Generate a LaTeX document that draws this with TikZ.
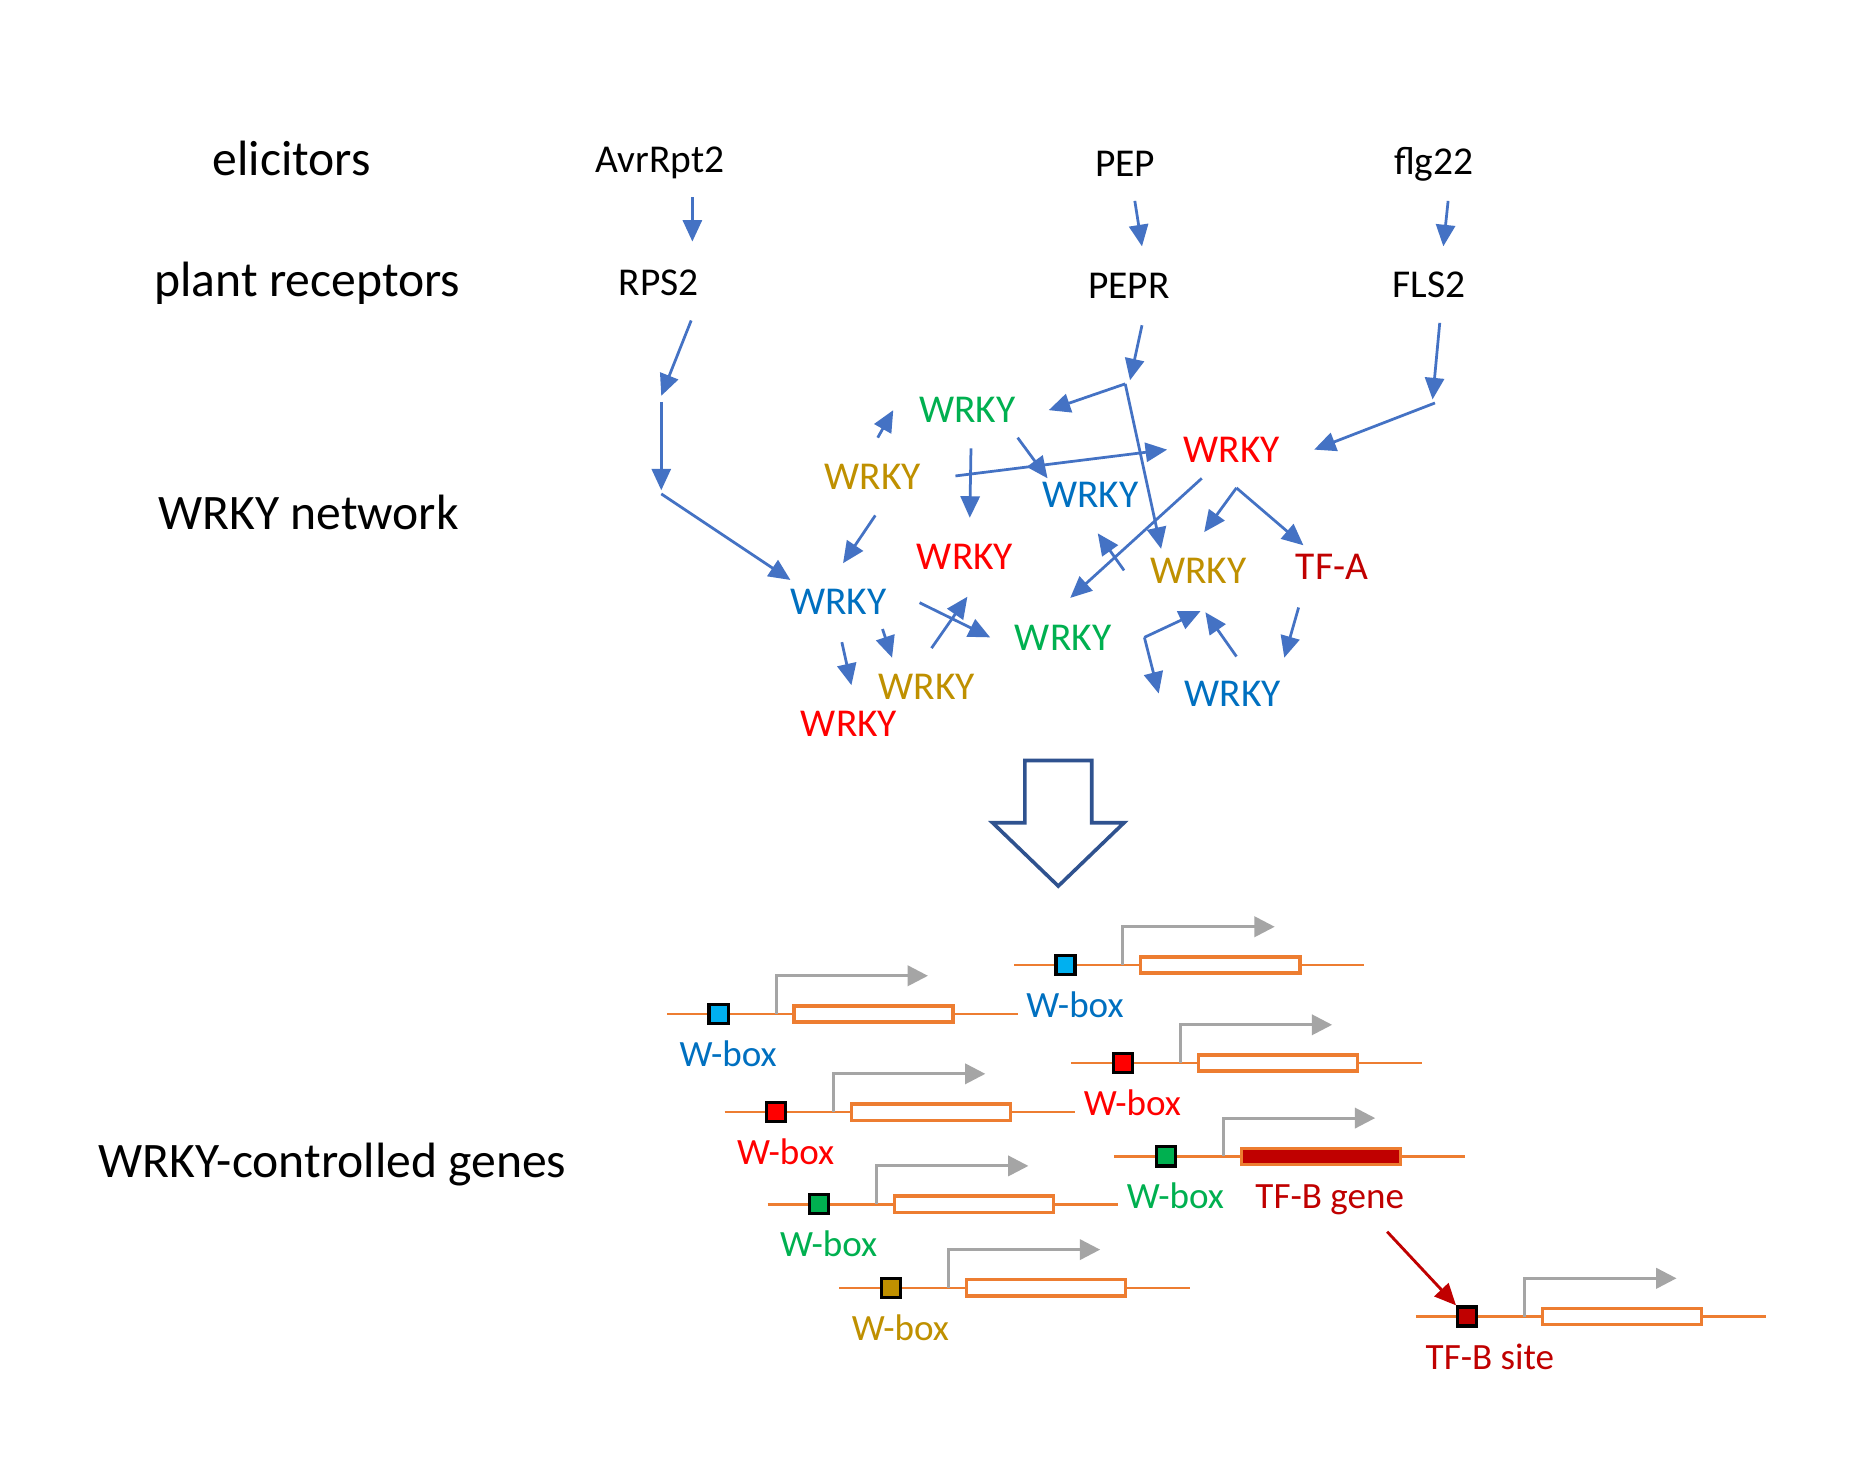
\documentclass[tikz,border=0pt]{standalone}
\usepackage{fontspec}
\setmainfont{Carlito}
\usetikzlibrary{arrows.meta}
\definecolor{arrowblue}{HTML}{4472C4}
\definecolor{bigblue}{HTML}{2F528F}
\definecolor{wgreen}{HTML}{00B050}
\definecolor{wred}{HTML}{FF0000}
\definecolor{wgold}{HTML}{BF9000}
\definecolor{wblue}{HTML}{0070C0}
\definecolor{dred}{HTML}{C00000}
\definecolor{gorange}{HTML}{ED7D31}
\definecolor{pgray}{HTML}{A5A5A5}
\definecolor{wcyan}{HTML}{00B0F0}
\newcommand\genepart[5]{%
  \draw[geneline] (#1,#2) coordinate (#5L) -- (#1+293,#2) coordinate (#5R);
  \draw[promo] (#1+91,#2) coordinate (#5p) -- (#1+91,#2-32) -- (#1+218,#2-32) coordinate (#5pe);
  \node[genebox, fill=#4] (#5box) at (#1+172.5,#2) {};
  \node[wsq, fill=#3] (#5sq) at (#1+43,#2) {};
}
\begin{document}
\begin{tikzpicture}[x=1pt,y=-1pt,
  big/.style={font=\fontsize{41.5}{49}\selectfont, anchor=base, inner sep=0pt},
  mid/.style={font=\fontsize{33}{40}\selectfont, anchor=base, inner sep=0pt},
  glab/.style={font=\fontsize{31}{37}\selectfont, anchor=base, inner sep=0pt},
  arr/.style={draw=arrowblue, line width=2.3pt, -{Triangle[length=18pt,width=16pt]}},
  geneline/.style={draw=gorange, line width=2.3pt},
  promo/.style={draw=pgray, line width=2.4pt, -{Triangle[length=17pt,width=17pt]}},
  genebox/.style={draw=gorange, line width=2.8pt, minimum width=133pt, minimum height=13.5pt, inner sep=0pt},
  wsq/.style={draw=black, line width=2.8pt, minimum size=16pt, inner sep=0pt},
  redarr/.style={draw=dred, line width=2.4pt, -{Triangle[length=18pt,width=16pt]}}
]
\fill[white] (0,0) rectangle (1568,1232);

% left labels
\node[big] (lelic) at (244,147) {elicitors};
\node[big] (lrec) at (257,248) {plant receptors};
\node[big] (lnet) at (258,443) {WRKY network};
\node[big] (lgen) at (278,985) {WRKY-controlled genes};

% elicitors and receptors
\node[mid] (avr) at (552,144) {AvrRpt2};
\node[mid] (pep) at (941,148) {PEP};
\node[mid] (flg) at (1199,146) {flg22};
\node[mid] (rps) at (551,247) {RPS2};
\node[mid] (pepr) at (944,250) {PEPR};
\node[mid] (fls) at (1195,249) {FLS2};

% network nodes
\node[mid, text=wgreen] (g1) at (809,353) {WRKY};
\node[mid, text=wgold] (o1) at (730,409) {WRKY};
\node[mid, text=wred] (r1) at (1030,387) {WRKY};
\node[mid, text=wblue] (b1) at (912,424) {WRKY};
\node[mid, text=wred] (r2) at (807,476) {WRKY};
\node[mid, text=wgold] (o2) at (1002,488) {WRKY};
\node[mid, text=dred] (tfa) at (1114,485) {TF-A};
\node[mid, text=wblue] (b2) at (701,514) {WRKY};
\node[mid, text=wgreen] (g2) at (889,544) {WRKY};
\node[mid, text=wgold] (o3) at (775,585) {WRKY};
\node[mid, text=wred] (r3) at (710,616) {WRKY};
\node[mid, text=wblue] (b3) at (1031,591) {WRKY};

% arrows
\draw[arr] (579,165) coordinate (a1s) -- (579,202) coordinate (a1e);
\draw[arr] (949,168) coordinate (a2s) -- (955,206) coordinate (a2e);
\draw[arr] (1211,168) coordinate (a3s) -- (1207,206) coordinate (a3e);
\draw[arr] (578,268) coordinate (a4s) -- (553,331) coordinate (a4e);
\draw[arr] (553,336) coordinate (a5s) -- (553,410) coordinate (a5e);
\draw[arr] (553,413) coordinate (a6s) -- (661,485) coordinate (a6e);
\draw[arr] (955,272) coordinate (a7s) -- (945,318) coordinate (a7e);
\draw[arr] (941,321) coordinate (a8s) -- (877,343) coordinate (a8e);
\draw[arr] (a8s) -- (971,459) coordinate (a9e);
\draw[arr] (1204,270) coordinate (a10s) -- (1198,334) coordinate (a10e);
\draw[arr] (1200,337) coordinate (a11s) -- (1099,376) coordinate (a11e);
\draw[arr] (734,366) coordinate (a12s) -- (747,343) coordinate (a12e);
\draw[arr] (799,398) coordinate (a13s) -- (976,376) coordinate (a13e);
\draw[arr] (851,366) coordinate (a14s) -- (876,400) coordinate (a14e);
\draw[arr] (812,375) coordinate (a15s) -- (811,433) coordinate (a15e);
\draw[arr] (732,431) coordinate (a16s) -- (705,471) coordinate (a16e);
\draw[arr] (1005,400) coordinate (a17s) -- (895,500) coordinate (a17e);
\draw[arr] (940,477) coordinate (a18s) -- (918,446) coordinate (a18e);
\draw[arr] (1034,408) coordinate (a19s) -- (1007,445) coordinate (a19e);
\draw[arr] (a19s) -- (1090,456) coordinate (a19f);
\draw[arr] (738,526) coordinate (a20s) -- (746,550) coordinate (a20e);
\draw[arr] (704,537) coordinate (a21s) -- (712,573) coordinate (a21e);
\draw[arr] (769,504) coordinate (a22s) -- (828,533) coordinate (a22e);
\draw[arr] (779,542) coordinate (a23s) -- (809,499) coordinate (a23e);
\draw[arr] (957,533) coordinate (a24s) -- (1004,511) coordinate (a24e);
\draw[arr] (a24s) -- (969,580) coordinate (a24f);
\draw[arr] (1034,549) coordinate (a25s) -- (1008,512) coordinate (a25e);
\draw[arr] (1086,508) coordinate (a26s) -- (1074,550) coordinate (a26e);

% big hollow arrow
\draw[bigblue, line width=3pt, fill=white, line join=miter]
  (857,636) coordinate (ha1) -- (913,636) -- (913,688) -- (940,688) -- (885,741) coordinate (hatip) -- (830,688) -- (857,688) -- cycle;

% genes
\genepart{558}{848}{wcyan}{white}{ga}
\genepart{848}{807}{wcyan}{white}{gb}
\genepart{896}{889}{wred}{white}{gc}
\genepart{606}{930}{wred}{white}{gd}
\genepart{932}{967}{wgreen}{dred}{ge}
\genepart{642}{1007}{wgreen}{white}{gf}
\genepart{702}{1077}{wgold}{white}{gg}
\genepart{1184}{1101}{dred}{white}{gh}

\node[glab, text=wblue] (la) at (609,892) {W-box};
\node[glab, text=wblue] (lb) at (899,851) {W-box};
\node[glab, text=wred] (lc) at (947,933) {W-box};
\node[glab, text=wred] (ld) at (657,974) {W-box};
\node[glab, text=wgreen] (le) at (983,1011) {W-box};
\node[glab, text=dred] (lte) at (1112,1011) {TF-B gene};
\node[glab, text=wgreen] (lf) at (693,1051) {W-box};
\node[glab, text=wgold] (lg) at (753,1121) {W-box};
\node[glab, text=dred] (lh) at (1246,1145) {TF-B site};

\coordinate (rs) at (1160,1030);
\draw[redarr] (rs) -- (ghsq.north west);
\end{tikzpicture}
\end{document}
